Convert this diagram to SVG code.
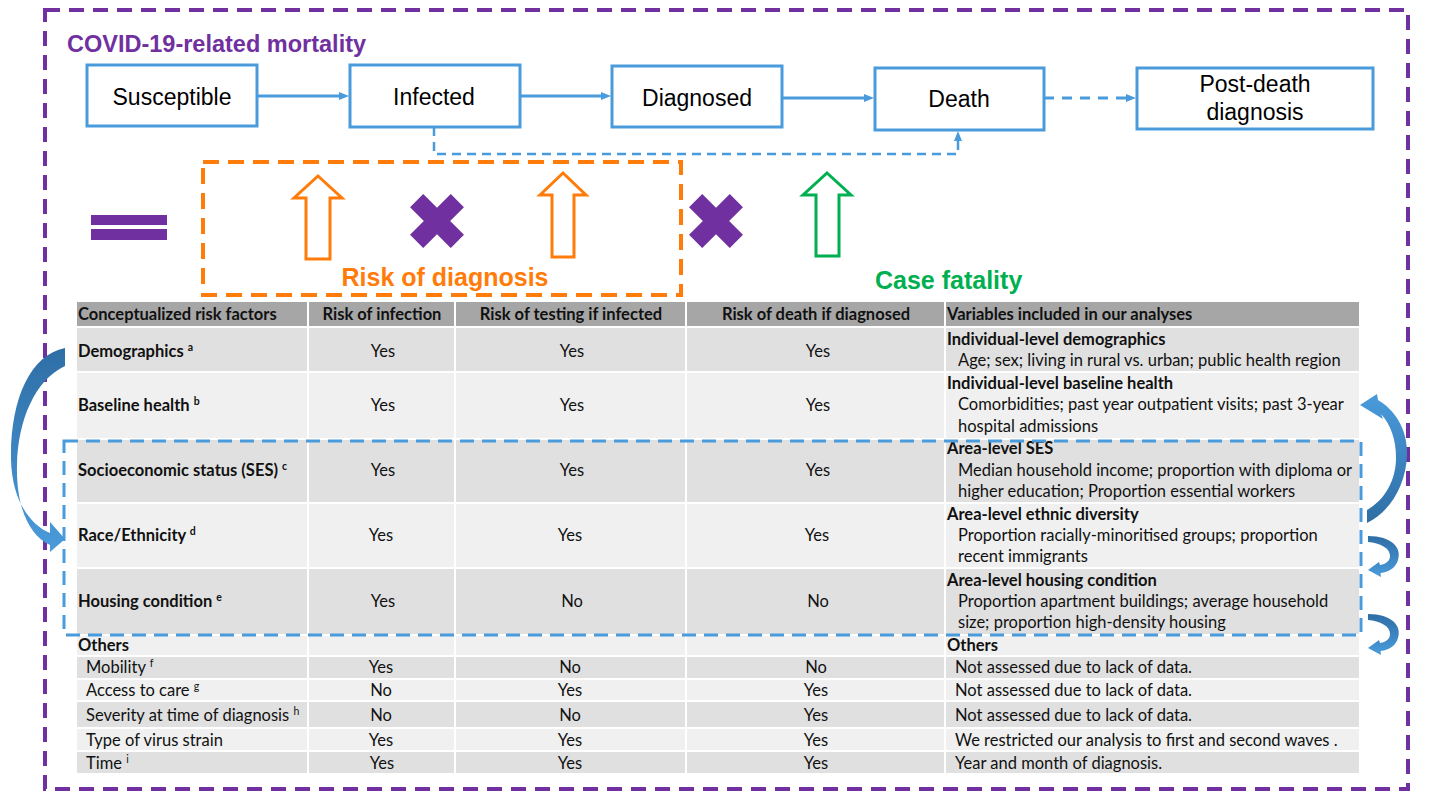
<svg xmlns="http://www.w3.org/2000/svg" width="1430" height="804" viewBox="0 0 1430 804">
<defs>
<style>
.box{fill:#fff;stroke:#4A9BDB;stroke-width:3}
.lbl{font-family:"Liberation Sans",Arial,sans-serif;font-size:23px;fill:#000;text-anchor:middle}
.conn{stroke:#4A9BDB;stroke-width:3;fill:none}
.dconn{stroke:#4A9BDB;stroke-width:2.5;fill:none;stroke-dasharray:9 6}
.t{font-family:Lato,"Liberation Sans",sans-serif;font-size:16.5px;fill:#111}
.b{font-weight:bold}
.c{text-anchor:middle}
.sup{font-size:10.5px}
.hd{fill:#A6A6A6}
.rd{fill:#E0E0E0}
.rl{fill:#EFF0EF}
.sep{stroke:#fff;stroke-width:2}
.purple{fill:#7030A0}
.oarrow{fill:#fff;stroke:#FF7C0A;stroke-width:3}
.garrow{fill:#fff;stroke:#00B050;stroke-width:3}
.big{font-family:"Liberation Sans",Arial,sans-serif;font-weight:bold;font-size:25px}
</style>
<marker id="ah" markerWidth="11" markerHeight="10" refX="1" refY="5" orient="auto" markerUnits="userSpaceOnUse"><path d="M0,1 L10,5 L0,9 Z" fill="#4A9BDB"/></marker>
<polygon id="xmark" points="-9.3,-28.8 9.3,-28.8 9.3,-9.3 28.8,-9.3 28.8,9.3 9.3,9.3 9.3,28.8 -9.3,28.8 -9.3,9.3 -28.8,9.3 -28.8,-9.3 -9.3,-9.3" transform="rotate(45)"/>
<linearGradient id="gL" x1="0" y1="0" x2="0" y2="1"><stop offset="0" stop-color="#2F6EA5"/><stop offset="1" stop-color="#4A9BDB"/></linearGradient>
<linearGradient id="gR" x1="0" y1="0" x2="0" y2="1"><stop offset="0" stop-color="#4A9BDB"/><stop offset="1" stop-color="#2F6EA5"/></linearGradient>
<linearGradient id="gS" x1="0" y1="0" x2="0" y2="1"><stop offset="0" stop-color="#2F6EA5"/><stop offset="1" stop-color="#4A9BDB"/></linearGradient>
</defs>
<rect width="1430" height="804" fill="#fff"/>

<!-- outer frame -->
<rect x="45" y="10" width="1363" height="779" fill="none" stroke="#7030A0" stroke-width="4" stroke-dasharray="15 9"/>
<text x="67" y="52" font-family="Liberation Sans,Arial,sans-serif" font-weight="bold" font-size="23.5" fill="#7030A0">COVID-19-related mortality</text>

<!-- table -->
<g id="table">
<rect class="hd" x="77" y="302" width="1282" height="24"/>
<rect class="rd" x="77" y="328" width="1282" height="43"/>
<rect class="rl" x="77" y="373" width="1282" height="65"/>
<rect class="rd" x="77" y="440" width="1282" height="62"/>
<rect class="rl" x="77" y="504" width="1282" height="63"/>
<rect class="rd" x="77" y="569" width="1282" height="65"/>
<rect class="rl" x="77" y="636" width="1282" height="19"/>
<rect class="rd" x="77" y="657" width="1282" height="21"/>
<rect class="rl" x="77" y="680" width="1282" height="20"/>
<rect class="rd" x="77" y="702" width="1282" height="25"/>
<rect class="rl" x="77" y="729" width="1282" height="21"/>
<rect class="rd" x="77" y="752" width="1282" height="21"/>
<line class="sep" x1="308" y1="302" x2="308" y2="773"/>
<line class="sep" x1="455" y1="302" x2="455" y2="773"/>
<line class="sep" x1="686" y1="302" x2="686" y2="773"/>
<line class="sep" x1="945" y1="302" x2="945" y2="773"/>

<text class="t b" x="78" y="320">Conceptualized risk factors</text>
<text class="t b c" x="382" y="320">Risk of infection</text>
<text class="t b c" x="571" y="320">Risk of testing if infected</text>
<text class="t b c" x="816" y="320">Risk of death if diagnosed</text>
<text class="t b" x="947" y="320">Variables included in our analyses</text>

<text class="t b" x="78" y="357">Demographics <tspan class="sup" dy="-6">a</tspan></text>
<text class="t c" x="383" y="357">Yes</text><text class="t c" x="572" y="357">Yes</text><text class="t c" x="818" y="357">Yes</text>
<text class="t b" x="947" y="345">Individual-level demographics</text>
<text class="t" x="958" y="366">Age; sex; living in rural vs. urban; public health region</text>

<text class="t b" x="78" y="411">Baseline health <tspan class="sup" dy="-6">b</tspan></text>
<text class="t c" x="383" y="411">Yes</text><text class="t c" x="572" y="411">Yes</text><text class="t c" x="818" y="411">Yes</text>
<text class="t b" x="947" y="389">Individual-level baseline health</text>
<text class="t" x="958" y="410">Comorbidities; past year outpatient visits; past 3-year</text>
<text class="t" x="958" y="432">hospital admissions</text>

<text class="t b" x="78" y="476">Socioeconomic status (SES) <tspan class="sup" dy="-6">c</tspan></text>
<text class="t c" x="383" y="476">Yes</text><text class="t c" x="572" y="476">Yes</text><text class="t c" x="818" y="476">Yes</text>
<text class="t b" x="947" y="454">Area-level SES</text>
<text class="t" x="958" y="476">Median household income; proportion with diploma or</text>
<text class="t" x="958" y="497">higher education; Proportion essential workers</text>

<text class="t b" x="78" y="541">Race/Ethnicity <tspan class="sup" dy="-6">d</tspan></text>
<text class="t c" x="381" y="541">Yes</text><text class="t c" x="570" y="541">Yes</text><text class="t c" x="817" y="541">Yes</text>
<text class="t b" x="947" y="520">Area-level ethnic diversity</text>
<text class="t" x="958" y="541">Proportion racially-minoritised groups; proportion</text>
<text class="t" x="958" y="562">recent immigrants</text>

<text class="t b" x="78" y="607">Housing condition <tspan class="sup" dy="-6">e</tspan></text>
<text class="t c" x="383" y="607">Yes</text><text class="t c" x="572" y="607">No</text><text class="t c" x="818" y="607">No</text>
<text class="t b" x="947" y="586">Area-level housing condition</text>
<text class="t" x="958" y="607">Proportion apartment buildings; average household</text>
<text class="t" x="958" y="628">size; proportion high-density housing</text>

<text class="t b" x="78" y="651">Others</text>
<text class="t b" x="947" y="651">Others</text>

<text class="t" x="86" y="673">Mobility <tspan class="sup" dy="-6">f</tspan></text>
<text class="t c" x="381" y="673">Yes</text><text class="t c" x="570" y="673">No</text><text class="t c" x="816" y="673">No</text>
<text class="t" x="955" y="673">Not assessed due to lack of data.</text>

<text class="t" x="86" y="696">Access to care <tspan class="sup" dy="-6">g</tspan></text>
<text class="t c" x="381" y="696">No</text><text class="t c" x="570" y="696">Yes</text><text class="t c" x="816" y="696">Yes</text>
<text class="t" x="955" y="696">Not assessed due to lack of data.</text>

<text class="t" x="86" y="721">Severity at time of diagnosis <tspan class="sup" dy="-6">h</tspan></text>
<text class="t c" x="381" y="721">No</text><text class="t c" x="570" y="721">No</text><text class="t c" x="816" y="721">Yes</text>
<text class="t" x="955" y="721">Not assessed due to lack of data.</text>

<text class="t" x="86" y="746">Type of virus strain</text>
<text class="t c" x="381" y="746">Yes</text><text class="t c" x="570" y="746">Yes</text><text class="t c" x="816" y="746">Yes</text>
<text class="t" x="955" y="746">We restricted our analysis to first and second waves .</text>

<text class="t" x="86" y="769">Time <tspan class="sup" dy="-6">i</tspan></text>
<text class="t c" x="382" y="769">Yes</text><text class="t c" x="570" y="769">Yes</text><text class="t c" x="816" y="769">Yes</text>
<text class="t" x="955" y="769">Year and month of diagnosis.</text>
</g>

<!-- blue dashed group box -->
<rect id="grouped-area" x="64" y="441" width="1297" height="194" fill="none" stroke="#4A9BDB" stroke-width="3" stroke-dasharray="14 8"/>

<!-- nodes -->
<g id="n-susceptible"><rect class="box" x="87" y="65" width="170" height="61"/><text class="lbl" x="172" y="105">Susceptible</text></g>
<g id="n-infected"><rect class="box" x="350" y="65" width="170" height="62"/><text class="lbl" x="434" y="105">Infected</text></g>
<g id="n-diagnosed"><rect class="box" x="612" y="66" width="170" height="61"/><text class="lbl" x="697" y="106">Diagnosed</text></g>
<g id="n-death"><rect class="box" x="875" y="68" width="169" height="62"/><text class="lbl" x="959" y="107">Death</text></g>
<g id="n-postdeath"><rect class="box" x="1137" y="68" width="236" height="61"/><text class="lbl" x="1255" y="92">Post-death</text><text class="lbl" x="1255" y="120">diagnosis</text></g>

<!-- connectors -->
<g id="connectors">
<line class="conn" x1="257" y1="96" x2="340" y2="96" marker-end="url(#ah)"/>
<line class="conn" x1="520" y1="96" x2="602" y2="96" marker-end="url(#ah)"/>
<line class="conn" x1="782" y1="98" x2="865" y2="98" marker-end="url(#ah)"/>
<line class="conn" x1="1044" y1="98" x2="1127" y2="98" stroke-dasharray="10 8" marker-end="url(#ah)"/>
<path class="dconn" d="M434,127 V154 H958 V140" marker-end="url(#ah)"/>
</g>

<!-- factors -->
<g id="equals"><rect class="purple" x="91" y="215" width="76" height="10"/><rect class="purple" x="91" y="229" width="76" height="11"/></g>
<g id="risk-of-diagnosis">
<rect x="203" y="162" width="478" height="133" fill="none" stroke="#FF7C0A" stroke-width="4" stroke-dasharray="16 9"/>
<polygon class="oarrow" points="318,176 342,198 330,198 330,259 306,259 306,198 294,198"/>
<use href="#xmark" transform="translate(437,221)" class="purple"/>
<polygon class="oarrow" points="563,173 586,195 574,195 574,257 552,257 552,195 540,195"/>
<text class="big" x="445" y="286" fill="#FF7C0A" text-anchor="middle">Risk of diagnosis</text>
</g>
<g id="times2"><use href="#xmark" transform="translate(716,221)" class="purple"/></g>
<g id="case-fatality">
<polygon class="garrow" points="827,173 851,195 839,195 839,256 816,256 816,195 803,195"/>
<text class="big" x="875" y="289" fill="#00B050">Case fatality</text>
</g>

<!-- curved arrows -->
<g id="curved-arrows">
<path fill="url(#gL)" d="M65,348 C30,355 10,400 11,460 C12,500 30,525 50,533 L50,522 L65,539 L50,552 L50,545 C28,535 16,505 17,465 C18,420 35,380 65,366 Z"/>
<path fill="url(#gR)" d="M1360,405 L1377,394 L1378,400 C1395,410 1408,430 1407,455 C1406,485 1390,512 1367,523 L1367,510 C1385,500 1396,480 1396,458 C1396,440 1391,425 1381,414 L1383,419 Z"/>
<path fill="url(#gS)" d="M1368,536 C1392,536 1402,548 1398,560 C1396,567 1390,572 1380.5,573 L1381,577 L1368,570 L1379,562 L1380,565 C1386,564 1390,561 1390,556 C1390,548 1380,543 1368,542 Z"/>
<path fill="url(#gS)" transform="translate(0,78)" d="M1368,536 C1392,536 1402,548 1398,560 C1396,567 1390,572 1380.5,573 L1381,577 L1368,570 L1379,562 L1380,565 C1386,564 1390,561 1390,556 C1390,548 1380,543 1368,542 Z"/>
</g>
</svg>
